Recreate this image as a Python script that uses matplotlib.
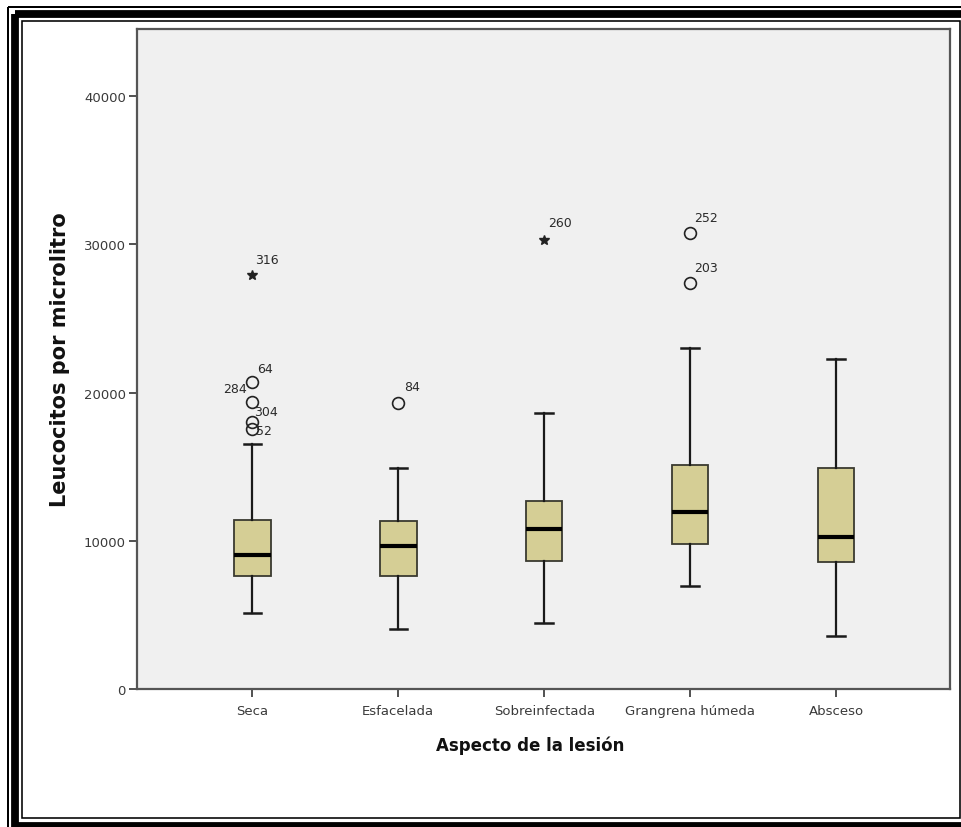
import matplotlib
matplotlib.use("Agg")
import matplotlib.pyplot as plt
from matplotlib.patches import Rectangle

# box statistics per lesion type (leucocitos / microlitro)
CATEGORIES = ["Seca", "Esfacelada", "Sobreinfectada", "Grangrena húmeda", "Absceso"]
WHISKER_LO = [5130, 4050, 4450, 6930, 3560]
Q1 = [7600, 7600, 8650, 9780, 8550]
MEDIAN = [9040, 9630, 10810, 11920, 10250]
Q3 = [11420, 11310, 12660, 15110, 14910]
WHISKER_HI = [16530, 14910, 18620, 23000, 22260]

# outliers: category index, value, marker kind, case label
OUT_CAT = [1, 1, 1, 1, 1, 2, 3, 4, 4]
OUT_VAL = [27930, 20690, 19340, 18030, 17540, 19290, 30310, 30740, 27370]
OUT_KIND = ["star", "circle", "circle", "circle", "circle", "circle", "star", "circle", "circle"]
OUT_LABEL = ["316", "64", "304", "52", "", "84", "260", "252", "203"]

# second label sharing the 64 point
EXTRA_LABEL = ("284", 1, 20690)

# label offsets in pixels (dx, dy, ha)
LABEL_OFFSETS = {
    "316": (3, 15, "left"),
    "64": (5, 14, "left"),
    "284": (-5, -6, "right"),
    "304": (2, -9, "left"),
    "52": (4, -9, "left"),
    "84": (6, 17, "left"),
    "260": (4, 17, "left"),
    "252": (4, 16, "left"),
    "203": (4, 16, "left"),
}

W, H, DPI = 961, 828, 100
plt.rcParams["font.family"] = ["DejaVu Sans"]

fig = plt.figure(figsize=(W / DPI, H / DPI), dpi=DPI)
fig.patch.set_facecolor("white")

ax = fig.add_axes([137 / W, 1 - 690 / H, (950 - 137) / W, (690 - 30) / H])
ax.set_facecolor("#f0f0f0")

positions = list(range(1, len(CATEGORIES) + 1))
stats = []
for i, name in enumerate(CATEGORIES):
    stats.append({
        "label": name,
        "whislo": WHISKER_LO[i],
        "q1": Q1[i],
        "med": MEDIAN[i],
        "q3": Q3[i],
        "whishi": WHISKER_HI[i],
        "fliers": [],
    })

ax.bxp(
    stats,
    positions=positions,
    widths=0.25,
    patch_artist=True,
    showfliers=False,
    boxprops=dict(facecolor="#d5ce95", edgecolor="#3a3a30", linewidth=1.3),
    medianprops=dict(color="black", linewidth=3.0, solid_capstyle="butt"),
    whiskerprops=dict(color="#1a1a1a", linewidth=1.6),
    capprops=dict(color="#1a1a1a", linewidth=1.8),
    capwidths=0.12,
)

for c, v, kind, lab in zip(OUT_CAT, OUT_VAL, OUT_KIND, OUT_LABEL):
    if kind == "star":
        ax.plot(c, v, marker="*", markersize=7.5, color="#222222", linestyle="none")
    else:
        ax.plot(c, v, marker="o", markersize=8.5, markerfacecolor="none",
                markeredgecolor="#222222", markeredgewidth=1.2, linestyle="none")
    if lab:
        dx, dy, ha = LABEL_OFFSETS[lab]
        ax.annotate(lab, (c, v), xytext=(dx, dy), textcoords="offset pixels",
                    ha=ha, va="center", fontsize=9, color="#2a2a2a")

lab, c, v = EXTRA_LABEL
dx, dy, ha = LABEL_OFFSETS[lab]
ax.annotate(lab, (c, v), xytext=(dx, dy), textcoords="offset pixels",
            ha=ha, va="center", fontsize=9, color="#2a2a2a")

ax.set_xlim(0.21, 5.78)
ax.set_ylim(0, 44520)
ax.set_yticks([0, 10000, 20000, 30000, 40000])
ax.set_yticklabels(["0", "10000", "20000", "30000", "40000"])
ax.set_xticks(positions)
ax.set_xticklabels(CATEGORIES)
ax.tick_params(axis="both", direction="out", length=6, width=1.2, color="#333333",
               labelsize=9.5, labelcolor="#3a3a3a", pad=2)
ax.tick_params(axis="x", pad=5)

for side in ["left", "right", "top", "bottom"]:
    ax.spines[side].set_color("#555555")
    ax.spines[side].set_linewidth(1.6)

ax.set_xlabel("Aspecto de la lesión", fontsize=12, fontweight="bold", color="#111111")
ax.xaxis.set_label_coords(0.484, -0.071)
ax.set_ylabel("Leucocitos por microlitro", fontsize=15, fontweight="bold",
              color="#111111", labelpad=10)

# double black frame around the whole figure
frame = fig.add_axes([0, 0, 1, 1], zorder=-1)
frame.set_xlim(0, W)
frame.set_ylim(H, 0)
frame.axis("off")
px = 72 / DPI
frame.add_patch(Rectangle((7.8, 7.8), 966, 827, fill=False, edgecolor="black", linewidth=2 * px))
frame.add_patch(Rectangle((15.3, 15.3), 951, 811.5, fill=False, edgecolor="black", linewidth=7.8 * px))
frame.add_patch(Rectangle((21.8, 21.8), 938, 797.5, fill=False, edgecolor="black", linewidth=1.6 * px))

fig.savefig("out.png", dpi=DPI)
